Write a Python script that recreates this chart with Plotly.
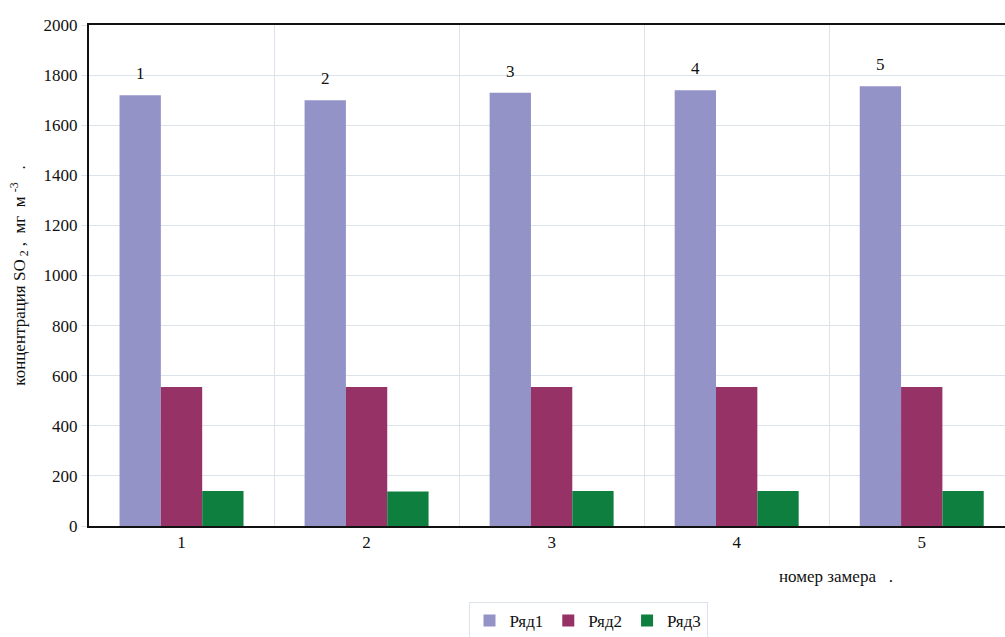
import plotly.graph_objects as go

categories = [1, 2, 3, 4, 5]
series_names = ["Ряд1", "Ряд2", "Ряд3"]
row1 = [1720, 1700, 1730, 1740, 1755]
row2 = [555, 555, 555, 555, 555]
row3 = [140, 138, 140, 140, 140]
point_labels = ["1", "2", "3", "4", "5"]
colors = ["#9393C8", "#973266", "#0E7F3E"]

FONT = "Liberation Serif, Times New Roman, serif"
BARGAP = 0.33

fig = go.Figure()
for name, vals, col in zip(series_names, [row1, row2, row3], colors):
    fig.add_trace(go.Bar(x=categories, y=vals, name=name, marker_color=col,
                         marker_line_width=0))

# point numbers above the first series
n = len(series_names)
bar_w = (1 - BARGAP) / n
for c, v, t in zip(categories, row1, point_labels):
    fig.add_annotation(x=c - bar_w, y=v, text=t, showarrow=False,
                       yanchor="bottom", yshift=10,
                       font=dict(family=FONT, size=17, color="#111"))

fig.add_annotation(xref="paper", yref="paper", x=0.815, y=-0.1,
                   text="номер замера   .", showarrow=False,
                   xanchor="center", yanchor="middle",
                   font=dict(family=FONT, size=17, color="#111"))

fig.update_layout(
    width=1005, height=637,
    margin=dict(l=89, r=0, t=25, b=111),
    paper_bgcolor="white", plot_bgcolor="white",
    barmode="group", bargap=BARGAP, bargroupgap=0,
    font=dict(family=FONT, size=17, color="#111"),
    showlegend=True,
    legend=dict(orientation="h", xref="container", yref="container",
                x=588 / 1005, xanchor="center", y=(637 - 602) / 637,
                yanchor="top", bordercolor="#dde3ea", borderwidth=1,
                font=dict(family=FONT, size=17), itemwidth=30,
                traceorder="normal"),
)
fig.update_xaxes(
    range=[0.5, 5.45], tickvals=categories, ticktext=[str(c) for c in categories],
    showgrid=False, showline=True, linecolor="#111", linewidth=2, mirror=True,
    ticks="", zeroline=False,
    minor=dict(tickvals=[1.5, 2.5, 3.5, 4.5], showgrid=True,
               gridcolor="#dde3ea", gridwidth=1),
    tickfont=dict(family=FONT, size=17),
)
fig.update_yaxes(
    range=[0, 2000], dtick=200, showgrid=True, gridcolor="#dde3ea",
    showline=True, linecolor="#111", linewidth=2, ticks="outside",
    ticklen=6, tickcolor="#dde3ea", zeroline=False,
    tickfont=dict(family=FONT, size=17),
    title=dict(text="концентрация SO<sub> 2</sub> ,  мг  м <sup>-3</sup>   .",
               font=dict(family=FONT, size=17), standoff=14),
)

fig.write_html("out.html")
